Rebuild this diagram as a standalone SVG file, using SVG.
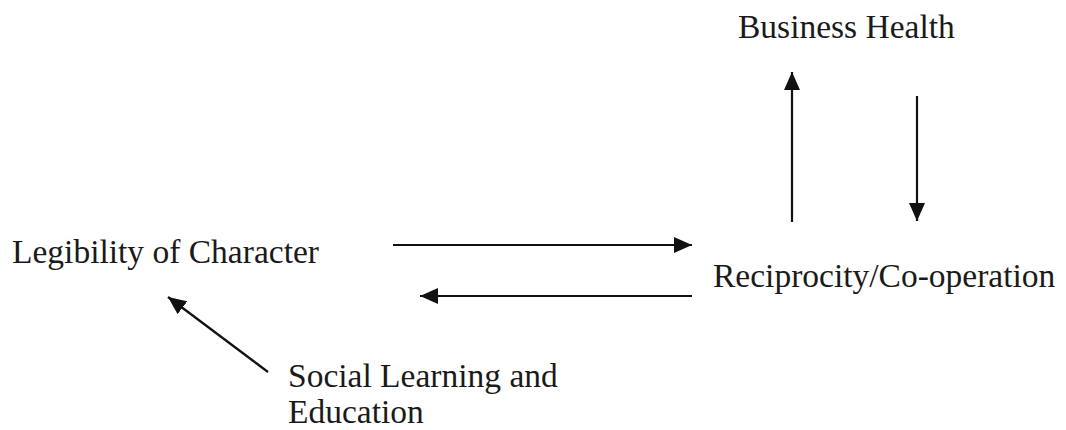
<svg xmlns="http://www.w3.org/2000/svg" width="1066" height="430" viewBox="0 0 1066 430">
  <style>
    .label { font-family: "Liberation Serif", "Times New Roman", serif; font-size: 33.5px; fill: #1a1a1a; }
    .edge { stroke: #111; stroke-width: 2.2; fill: none; marker-end: url(#arrow); }
  </style>
  <defs>
    <marker id="arrow" viewBox="0 0 18 16" refX="18" refY="8" markerWidth="18" markerHeight="16" markerUnits="userSpaceOnUse" orient="auto">
      <path d="M0,0 L18,8 L0,16 Z" fill="#111"/>
    </marker>
  </defs>
  <rect width="1066" height="430" fill="#fff"/>

  <g id="business-health">
    <text class="label" x="738" y="38">Business Health</text>
  </g>
  <g id="legibility-of-character">
    <text class="label" x="12" y="263">Legibility of Character</text>
  </g>
  <g id="reciprocity">
    <text class="label" x="713" y="287">Reciprocity/Co-operation</text>
  </g>
  <g id="social-learning">
    <text class="label" x="288" y="387">Social Learning and</text>
    <text class="label" x="288" y="423">Education</text>
  </g>

  <g id="connectors">
    <line class="edge" x1="792" y1="222" x2="792" y2="72"/>
    <line class="edge" x1="917" y1="96" x2="917" y2="221"/>
    <line class="edge" x1="393" y1="245" x2="692" y2="245"/>
    <line class="edge" x1="692" y1="296" x2="420" y2="296"/>
    <line class="edge" x1="268" y1="372" x2="168" y2="297"/>
  </g>
</svg>
